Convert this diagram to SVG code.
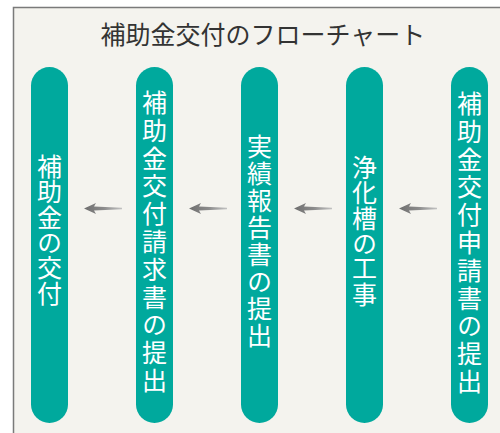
<svg xmlns="http://www.w3.org/2000/svg" width="500" height="433" viewBox="0 0 500 433">
  <defs>
    <style>
      .pill { fill: #00a99d; }
      .lbl { font-family: "Noto Sans CJK JP", "Noto Sans", sans-serif; font-size: 25px; fill: #ffffff; writing-mode: vertical-rl; text-anchor: middle; }
      .title { font-family: "Noto Sans CJK JP", "Noto Sans", sans-serif; font-size: 25px; fill: #333333; text-anchor: middle; }
    </style>
    <linearGradient id="ag" x1="0" y1="0" x2="1" y2="0">
      <stop offset="0" stop-color="#6f6f6f"/>
      <stop offset="0.5" stop-color="#8a8a8a"/>
      <stop offset="1" stop-color="#c2c2c2"/>
    </linearGradient>
    <path id="arrow" d="M0,0 L12,-5.5 L10,-1.9 L38,-0.8 L38,0.8 L10,1.9 L12,5.5 Z" fill="url(#ag)"/>
  </defs>
  <rect x="0" y="0" width="500" height="433" fill="#ffffff"/>
  <rect x="13.5" y="7.5" width="500" height="440" fill="#f4f3ee" stroke="#7a7a7a" stroke-width="1.5"/>
  <text class="title" x="263" y="44">補助金交付のフローチャート</text>

  <g id="connectors">
    <use href="#arrow" x="84" y="208.5"/>
    <use href="#arrow" x="189" y="208.5"/>
    <use href="#arrow" x="294" y="208.5"/>
    <use href="#arrow" x="399" y="208.5"/>
  </g>

  <g id="node1">
    <rect class="pill" x="31" y="67" width="37" height="356" rx="18.5"/>
    <text class="lbl" x="49.5" y="230" style="letter-spacing:0.4px">補助金の交付</text>
  </g>
  <g id="node2">
    <rect class="pill" x="136" y="67" width="37" height="356" rx="18.5"/>
    <text class="lbl" x="154.5" y="243" style="letter-spacing:2.8px">補助金交付請求書の提出</text>
  </g>
  <g id="node3">
    <rect class="pill" x="241" y="67" width="37" height="356" rx="18.5"/>
    <text class="lbl" x="259.5" y="242" style="letter-spacing:2.1px">実績報告書の提出</text>
  </g>
  <g id="node4">
    <rect class="pill" x="346" y="67" width="37" height="356" rx="18.5"/>
    <text class="lbl" x="364.5" y="231" style="letter-spacing:0.4px">浄化槽の工事</text>
  </g>
  <g id="node5">
    <rect class="pill" x="451" y="67" width="37" height="356" rx="18.5"/>
    <text class="lbl" x="469.5" y="244" style="letter-spacing:2.8px">補助金交付申請書の提出</text>
  </g>
</svg>
